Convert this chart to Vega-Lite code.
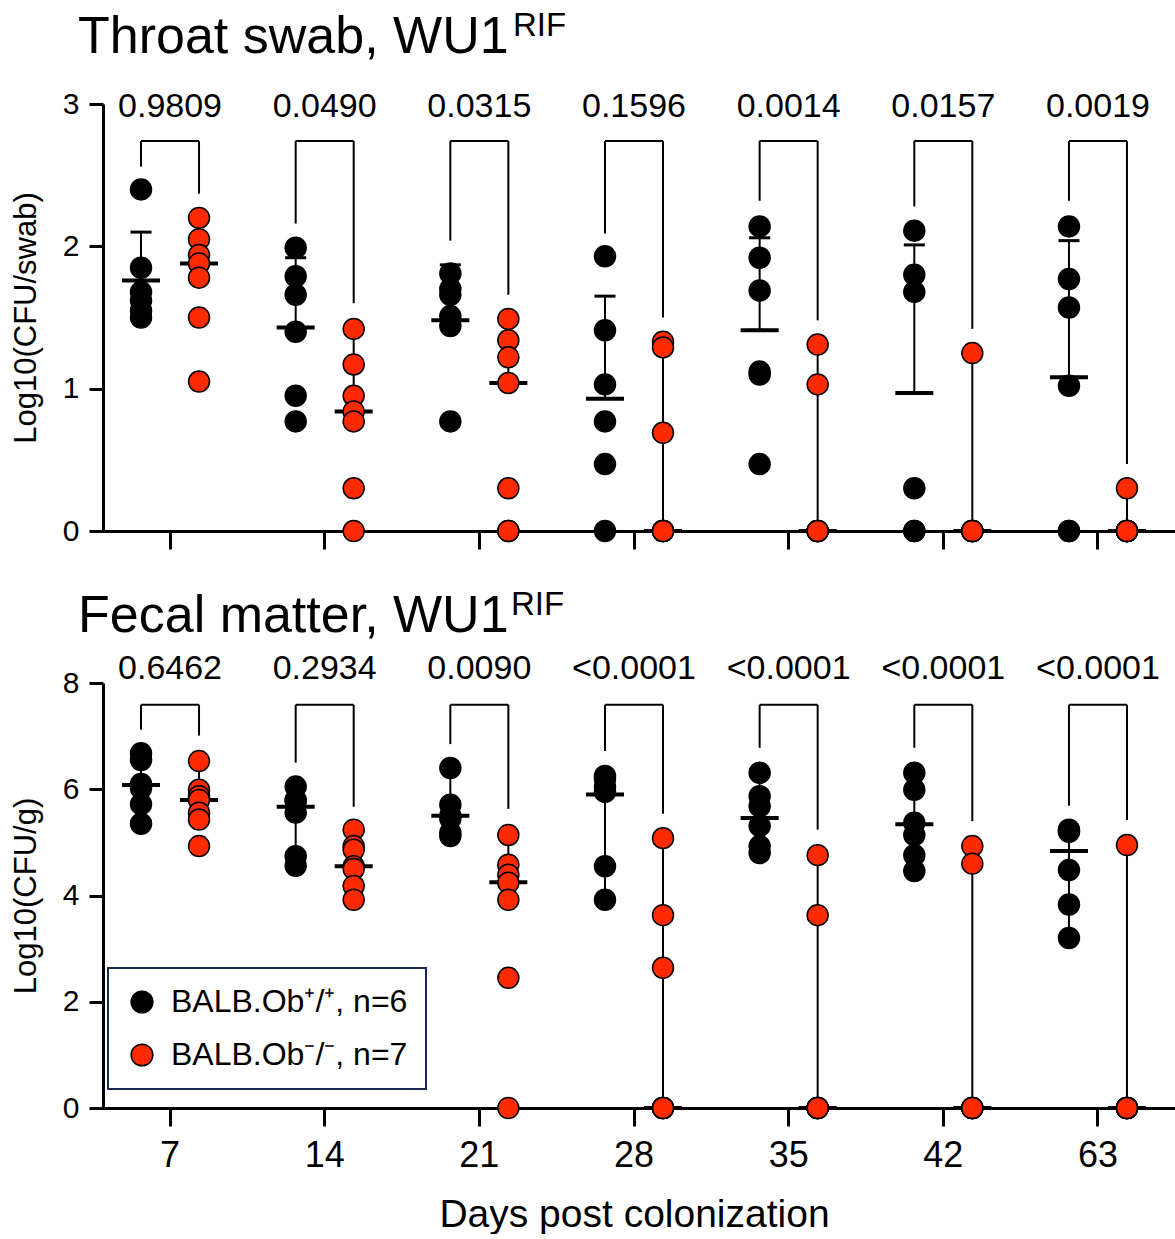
{
  "$schema": "https://vega.github.io/schema/vega-lite/v6.json",
  "padding": {"left": 10, "top": 9, "right": 5, "bottom": 0},
  "background": "white",
  "config": {
    "font": "Liberation Sans",
    "view": {"stroke": null},
    "concat": {"spacing": 38},
    "legend": {"strokeWidth": 2}
  },
  "datasets": {
    "pts": [
      {"panel":"T","day":"7","g":"Ob+/+","v":2.40},{"panel":"T","day":"7","g":"Ob+/+","v":1.85},{"panel":"T","day":"7","g":"Ob+/+","v":1.68},{"panel":"T","day":"7","g":"Ob+/+","v":1.62},{"panel":"T","day":"7","g":"Ob+/+","v":1.55},{"panel":"T","day":"7","g":"Ob+/+","v":1.50},
      {"panel":"T","day":"7","g":"Ob-/-","v":2.20},{"panel":"T","day":"7","g":"Ob-/-","v":2.05},{"panel":"T","day":"7","g":"Ob-/-","v":1.94},{"panel":"T","day":"7","g":"Ob-/-","v":1.88},{"panel":"T","day":"7","g":"Ob-/-","v":1.78},{"panel":"T","day":"7","g":"Ob-/-","v":1.50},{"panel":"T","day":"7","g":"Ob-/-","v":1.05},
      {"panel":"T","day":"14","g":"Ob+/+","v":1.99},{"panel":"T","day":"14","g":"Ob+/+","v":1.79},{"panel":"T","day":"14","g":"Ob+/+","v":1.66},{"panel":"T","day":"14","g":"Ob+/+","v":1.40},{"panel":"T","day":"14","g":"Ob+/+","v":0.95},{"panel":"T","day":"14","g":"Ob+/+","v":0.77},
      {"panel":"T","day":"14","g":"Ob-/-","v":1.42},{"panel":"T","day":"14","g":"Ob-/-","v":1.17},{"panel":"T","day":"14","g":"Ob-/-","v":0.95},{"panel":"T","day":"14","g":"Ob-/-","v":0.84},{"panel":"T","day":"14","g":"Ob-/-","v":0.77},{"panel":"T","day":"14","g":"Ob-/-","v":0.30},{"panel":"T","day":"14","g":"Ob-/-","v":0},
      {"panel":"T","day":"21","g":"Ob+/+","v":1.81},{"panel":"T","day":"21","g":"Ob+/+","v":1.70},{"panel":"T","day":"21","g":"Ob+/+","v":1.66},{"panel":"T","day":"21","g":"Ob+/+","v":1.51},{"panel":"T","day":"21","g":"Ob+/+","v":1.44},{"panel":"T","day":"21","g":"Ob+/+","v":0.77},
      {"panel":"T","day":"21","g":"Ob-/-","v":1.49},{"panel":"T","day":"21","g":"Ob-/-","v":1.34},{"panel":"T","day":"21","g":"Ob-/-","v":1.22},{"panel":"T","day":"21","g":"Ob-/-","v":1.04},{"panel":"T","day":"21","g":"Ob-/-","v":0.30},{"panel":"T","day":"21","g":"Ob-/-","v":0},{"panel":"T","day":"21","g":"Ob-/-","v":0},
      {"panel":"T","day":"28","g":"Ob+/+","v":1.93},{"panel":"T","day":"28","g":"Ob+/+","v":1.41},{"panel":"T","day":"28","g":"Ob+/+","v":1.03},{"panel":"T","day":"28","g":"Ob+/+","v":0.77},{"panel":"T","day":"28","g":"Ob+/+","v":0.47},{"panel":"T","day":"28","g":"Ob+/+","v":0},
      {"panel":"T","day":"28","g":"Ob-/-","v":1.33},{"panel":"T","day":"28","g":"Ob-/-","v":1.29},{"panel":"T","day":"28","g":"Ob-/-","v":0.69},{"panel":"T","day":"28","g":"Ob-/-","v":0},{"panel":"T","day":"28","g":"Ob-/-","v":0},{"panel":"T","day":"28","g":"Ob-/-","v":0},{"panel":"T","day":"28","g":"Ob-/-","v":0},
      {"panel":"T","day":"35","g":"Ob+/+","v":2.14},{"panel":"T","day":"35","g":"Ob+/+","v":1.92},{"panel":"T","day":"35","g":"Ob+/+","v":1.69},{"panel":"T","day":"35","g":"Ob+/+","v":1.12},{"panel":"T","day":"35","g":"Ob+/+","v":1.10},{"panel":"T","day":"35","g":"Ob+/+","v":0.47},
      {"panel":"T","day":"35","g":"Ob-/-","v":1.31},{"panel":"T","day":"35","g":"Ob-/-","v":1.03},{"panel":"T","day":"35","g":"Ob-/-","v":0},{"panel":"T","day":"35","g":"Ob-/-","v":0},{"panel":"T","day":"35","g":"Ob-/-","v":0},{"panel":"T","day":"35","g":"Ob-/-","v":0},{"panel":"T","day":"35","g":"Ob-/-","v":0},
      {"panel":"T","day":"42","g":"Ob+/+","v":2.11},{"panel":"T","day":"42","g":"Ob+/+","v":1.80},{"panel":"T","day":"42","g":"Ob+/+","v":1.68},{"panel":"T","day":"42","g":"Ob+/+","v":0.30},{"panel":"T","day":"42","g":"Ob+/+","v":0},{"panel":"T","day":"42","g":"Ob+/+","v":0},
      {"panel":"T","day":"42","g":"Ob-/-","v":1.25},{"panel":"T","day":"42","g":"Ob-/-","v":0},{"panel":"T","day":"42","g":"Ob-/-","v":0},{"panel":"T","day":"42","g":"Ob-/-","v":0},{"panel":"T","day":"42","g":"Ob-/-","v":0},{"panel":"T","day":"42","g":"Ob-/-","v":0},{"panel":"T","day":"42","g":"Ob-/-","v":0},
      {"panel":"T","day":"63","g":"Ob+/+","v":2.14},{"panel":"T","day":"63","g":"Ob+/+","v":1.77},{"panel":"T","day":"63","g":"Ob+/+","v":1.57},{"panel":"T","day":"63","g":"Ob+/+","v":1.02},{"panel":"T","day":"63","g":"Ob+/+","v":0},{"panel":"T","day":"63","g":"Ob+/+","v":0},
      {"panel":"T","day":"63","g":"Ob-/-","v":0.30},{"panel":"T","day":"63","g":"Ob-/-","v":0},{"panel":"T","day":"63","g":"Ob-/-","v":0},{"panel":"T","day":"63","g":"Ob-/-","v":0},{"panel":"T","day":"63","g":"Ob-/-","v":0},{"panel":"T","day":"63","g":"Ob-/-","v":0},{"panel":"T","day":"63","g":"Ob-/-","v":0},

      {"panel":"F","day":"7","g":"Ob+/+","v":6.68},{"panel":"F","day":"7","g":"Ob+/+","v":6.55},{"panel":"F","day":"7","g":"Ob+/+","v":6.10},{"panel":"F","day":"7","g":"Ob+/+","v":6.02},{"panel":"F","day":"7","g":"Ob+/+","v":5.72},{"panel":"F","day":"7","g":"Ob+/+","v":5.35},
      {"panel":"F","day":"7","g":"Ob-/-","v":6.53},{"panel":"F","day":"7","g":"Ob-/-","v":5.99},{"panel":"F","day":"7","g":"Ob-/-","v":5.87},{"panel":"F","day":"7","g":"Ob-/-","v":5.80},{"panel":"F","day":"7","g":"Ob-/-","v":5.56},{"panel":"F","day":"7","g":"Ob-/-","v":5.43},{"panel":"F","day":"7","g":"Ob-/-","v":4.93},
      {"panel":"F","day":"14","g":"Ob+/+","v":6.05},{"panel":"F","day":"14","g":"Ob+/+","v":5.80},{"panel":"F","day":"14","g":"Ob+/+","v":5.78},{"panel":"F","day":"14","g":"Ob+/+","v":5.56},{"panel":"F","day":"14","g":"Ob+/+","v":4.74},{"panel":"F","day":"14","g":"Ob+/+","v":4.56},
      {"panel":"F","day":"14","g":"Ob-/-","v":5.24},{"panel":"F","day":"14","g":"Ob-/-","v":4.93},{"panel":"F","day":"14","g":"Ob-/-","v":4.86},{"panel":"F","day":"14","g":"Ob-/-","v":4.55},{"panel":"F","day":"14","g":"Ob-/-","v":4.50},{"panel":"F","day":"14","g":"Ob-/-","v":4.18},{"panel":"F","day":"14","g":"Ob-/-","v":3.92},
      {"panel":"F","day":"21","g":"Ob+/+","v":6.40},{"panel":"F","day":"21","g":"Ob+/+","v":5.71},{"panel":"F","day":"21","g":"Ob+/+","v":5.50},{"panel":"F","day":"21","g":"Ob+/+","v":5.45},{"panel":"F","day":"21","g":"Ob+/+","v":5.18},{"panel":"F","day":"21","g":"Ob+/+","v":5.12},
      {"panel":"F","day":"21","g":"Ob-/-","v":5.14},{"panel":"F","day":"21","g":"Ob-/-","v":4.58},{"panel":"F","day":"21","g":"Ob-/-","v":4.39},{"panel":"F","day":"21","g":"Ob-/-","v":4.24},{"panel":"F","day":"21","g":"Ob-/-","v":3.92},{"panel":"F","day":"21","g":"Ob-/-","v":2.45},{"panel":"F","day":"21","g":"Ob-/-","v":0},
      {"panel":"F","day":"28","g":"Ob+/+","v":6.25},{"panel":"F","day":"28","g":"Ob+/+","v":6.20},{"panel":"F","day":"28","g":"Ob+/+","v":6.05},{"panel":"F","day":"28","g":"Ob+/+","v":5.95},{"panel":"F","day":"28","g":"Ob+/+","v":4.55},{"panel":"F","day":"28","g":"Ob+/+","v":3.92},
      {"panel":"F","day":"28","g":"Ob-/-","v":5.08},{"panel":"F","day":"28","g":"Ob-/-","v":3.63},{"panel":"F","day":"28","g":"Ob-/-","v":2.64},{"panel":"F","day":"28","g":"Ob-/-","v":0},{"panel":"F","day":"28","g":"Ob-/-","v":0},{"panel":"F","day":"28","g":"Ob-/-","v":0},{"panel":"F","day":"28","g":"Ob-/-","v":0},
      {"panel":"F","day":"35","g":"Ob+/+","v":6.31},{"panel":"F","day":"35","g":"Ob+/+","v":5.87},{"panel":"F","day":"35","g":"Ob+/+","v":5.68},{"panel":"F","day":"35","g":"Ob+/+","v":5.31},{"panel":"F","day":"35","g":"Ob+/+","v":4.93},{"panel":"F","day":"35","g":"Ob+/+","v":4.80},
      {"panel":"F","day":"35","g":"Ob-/-","v":4.76},{"panel":"F","day":"35","g":"Ob-/-","v":3.63},{"panel":"F","day":"35","g":"Ob-/-","v":0},{"panel":"F","day":"35","g":"Ob-/-","v":0},{"panel":"F","day":"35","g":"Ob-/-","v":0},{"panel":"F","day":"35","g":"Ob-/-","v":0},{"panel":"F","day":"35","g":"Ob-/-","v":0},
      {"panel":"F","day":"42","g":"Ob+/+","v":6.31},{"panel":"F","day":"42","g":"Ob+/+","v":5.99},{"panel":"F","day":"42","g":"Ob+/+","v":5.37},{"panel":"F","day":"42","g":"Ob+/+","v":5.14},{"panel":"F","day":"42","g":"Ob+/+","v":4.76},{"panel":"F","day":"42","g":"Ob+/+","v":4.46},
      {"panel":"F","day":"42","g":"Ob-/-","v":4.93},{"panel":"F","day":"42","g":"Ob-/-","v":4.60},{"panel":"F","day":"42","g":"Ob-/-","v":0},{"panel":"F","day":"42","g":"Ob-/-","v":0},{"panel":"F","day":"42","g":"Ob-/-","v":0},{"panel":"F","day":"42","g":"Ob-/-","v":0},{"panel":"F","day":"42","g":"Ob-/-","v":0},
      {"panel":"F","day":"63","g":"Ob+/+","v":5.24},{"panel":"F","day":"63","g":"Ob+/+","v":5.22},{"panel":"F","day":"63","g":"Ob+/+","v":5.20},{"panel":"F","day":"63","g":"Ob+/+","v":4.48},{"panel":"F","day":"63","g":"Ob+/+","v":3.83},{"panel":"F","day":"63","g":"Ob+/+","v":3.20},
      {"panel":"F","day":"63","g":"Ob-/-","v":4.95},{"panel":"F","day":"63","g":"Ob-/-","v":0},{"panel":"F","day":"63","g":"Ob-/-","v":0},{"panel":"F","day":"63","g":"Ob-/-","v":0},{"panel":"F","day":"63","g":"Ob-/-","v":0},{"panel":"F","day":"63","g":"Ob-/-","v":0},{"panel":"F","day":"63","g":"Ob-/-","v":0}
    ],
    "summ": [
      {"panel":"T","day":"7","g":"Ob+/+","center":1.76,"hi":2.10,"lo":1.76,"leg":2.56},
      {"panel":"T","day":"7","g":"Ob-/-","center":1.88,"hi":2.20,"lo":1.88,"leg":2.37},
      {"panel":"T","day":"14","g":"Ob+/+","center":1.43,"hi":1.92,"lo":1.43,"leg":2.16},
      {"panel":"T","day":"14","g":"Ob-/-","center":0.84,"hi":1.42,"lo":0.84,"leg":1.60},
      {"panel":"T","day":"21","g":"Ob+/+","center":1.48,"hi":1.87,"lo":1.48,"leg":2.04},
      {"panel":"T","day":"21","g":"Ob-/-","center":1.04,"hi":1.49,"lo":1.04,"leg":1.66},
      {"panel":"T","day":"28","g":"Ob+/+","center":0.93,"hi":1.65,"lo":0.93,"leg":2.09},
      {"panel":"T","day":"28","g":"Ob-/-","center":0,"hi":1.33,"lo":0,"leg":1.50},
      {"panel":"T","day":"35","g":"Ob+/+","center":1.41,"hi":2.06,"lo":1.41,"leg":2.32},
      {"panel":"T","day":"35","g":"Ob-/-","center":0,"hi":1.31,"lo":0,"leg":1.48},
      {"panel":"T","day":"42","g":"Ob+/+","center":0.97,"hi":2.01,"lo":0.97,"leg":2.28},
      {"panel":"T","day":"42","g":"Ob-/-","center":0,"hi":1.25,"lo":0,"leg":1.42},
      {"panel":"T","day":"63","g":"Ob+/+","center":1.08,"hi":2.04,"lo":1.08,"leg":2.32},
      {"panel":"T","day":"63","g":"Ob-/-","center":0,"hi":0.30,"lo":0,"leg":0.47},
      {"panel":"F","day":"7","g":"Ob+/+","center":6.08,"hi":6.60,"lo":5.40,"leg":7.12},
      {"panel":"F","day":"7","g":"Ob-/-","center":5.80,"hi":6.53,"lo":5.80,"leg":7.01},
      {"panel":"F","day":"14","g":"Ob+/+","center":5.67,"hi":6.10,"lo":4.80,"leg":6.50},
      {"panel":"F","day":"14","g":"Ob-/-","center":4.55,"hi":5.21,"lo":4.55,"leg":5.67},
      {"panel":"F","day":"21","g":"Ob+/+","center":5.50,"hi":6.40,"lo":5.50,"leg":6.85},
      {"panel":"F","day":"21","g":"Ob-/-","center":4.25,"hi":5.14,"lo":4.25,"leg":5.63},
      {"panel":"F","day":"28","g":"Ob+/+","center":5.90,"hi":6.25,"lo":3.92,"leg":6.72},
      {"panel":"F","day":"28","g":"Ob-/-","center":0,"hi":5.08,"lo":0,"leg":5.54},
      {"panel":"F","day":"35","g":"Ob+/+","center":5.46,"hi":6.25,"lo":4.85,"leg":6.78},
      {"panel":"F","day":"35","g":"Ob-/-","center":0,"hi":4.76,"lo":0,"leg":5.24},
      {"panel":"F","day":"42","g":"Ob+/+","center":5.34,"hi":6.32,"lo":4.46,"leg":6.78},
      {"panel":"F","day":"42","g":"Ob-/-","center":0,"hi":4.93,"lo":0,"leg":5.40},
      {"panel":"F","day":"63","g":"Ob+/+","center":4.84,"hi":5.20,"lo":3.20,"leg":5.69},
      {"panel":"F","day":"63","g":"Ob-/-","center":0,"hi":4.95,"lo":0,"leg":5.42}
    ],
    "pv": [
      {"panel":"T","day":"7","p":"0.9809"},{"panel":"T","day":"14","p":"0.0490"},{"panel":"T","day":"21","p":"0.0315"},{"panel":"T","day":"28","p":"0.1596"},{"panel":"T","day":"35","p":"0.0014"},{"panel":"T","day":"42","p":"0.0157"},{"panel":"T","day":"63","p":"0.0019"},
      {"panel":"F","day":"7","p":"0.6462"},{"panel":"F","day":"14","p":"0.2934"},{"panel":"F","day":"21","p":"0.0090"},{"panel":"F","day":"28","p":"<0.0001"},{"panel":"F","day":"35","p":"<0.0001"},{"panel":"F","day":"42","p":"<0.0001"},{"panel":"F","day":"63","p":"<0.0001"}
    ]
  },
  "vconcat": [
    {
      "width": 1063,
      "height": 427,
      "layer": [
        {
          "data": {"name": "summ"},
          "transform": [{"filter": "datum.panel == 'T'"}],
          "mark": {"type": "line", "color": "black", "strokeWidth": 2},
          "encoding": {
            "x": {"field": "day", "type": "ordinal", "scale": {"domain": ["7","14","21","28","35","42","63"], "range": [-10.3, 1072.3], "paddingInner": 0, "paddingOuter": 0},
                  "axis": {"labels": false, "ticks": true, "tickSize": 18, "tickWidth": 3, "tickColor": "black", "domain": false, "title": null, "grid": false}},
            "xOffset": {"field": "g", "type": "nominal", "scale": {"domain": ["Ob+/+","Ob-/-"], "paddingInner": 0, "paddingOuter": 0.333}},
            "y": {"datum": 2.74, "type": "quantitative",
                  "scale": {"domain": [0, 3], "nice": false, "zero": true},
                  "axis": {"values": [0,1,2,3], "format": "d", "title": "Log10(CFU/swab)", "titleFontSize": 31, "titleFontWeight": "normal", "titleColor": "black", "titlePadding": 20,
                           "labelFontSize": 30, "labelColor": "black", "labelPadding": 10, "tickSize": 14, "tickWidth": 3, "tickColor": "black",
                           "domainColor": "black", "domainWidth": 3, "grid": true, "gridColor": "black", "gridWidth": 3,
                           "gridOpacity": {"condition": {"test": "datum.value === 0", "value": 1}, "value": 0}}},
            "detail": {"field": "day"}
          }
        },
        {
          "data": {"name": "summ"},
          "transform": [{"filter": "datum.panel == 'T'"}],
          "mark": {"type": "rule", "color": "black", "strokeWidth": 2},
          "encoding": {
            "x": {"field": "day", "type": "ordinal"},
            "xOffset": {"field": "g", "type": "nominal"},
            "y": {"field": "leg", "type": "quantitative"},
            "y2": {"datum": 2.74}
          }
        },
        {
          "data": {"name": "summ"},
          "transform": [{"filter": "datum.panel == 'T'"}],
          "mark": {"type": "rule", "color": "black", "strokeWidth": 2},
          "encoding": {
            "x": {"field": "day", "type": "ordinal"},
            "xOffset": {"field": "g", "type": "nominal"},
            "y": {"field": "lo", "type": "quantitative"},
            "y2": {"field": "hi"}
          }
        },
        {
          "data": {"name": "summ"},
          "transform": [{"filter": "datum.panel == 'T'"}],
          "mark": {"type": "point", "shape": "stroke", "size": 441, "strokeWidth": 3, "color": "black", "opacity": 1},
          "encoding": {
            "x": {"field": "day", "type": "ordinal"},
            "xOffset": {"field": "g", "type": "nominal"},
            "y": {"field": "hi", "type": "quantitative"}
          }
        },
        {
          "data": {"name": "summ"},
          "transform": [{"filter": "datum.panel == 'T'"}],
          "mark": {"type": "point", "shape": "stroke", "size": 441, "strokeWidth": 3, "color": "black", "opacity": 1},
          "encoding": {
            "x": {"field": "day", "type": "ordinal"},
            "xOffset": {"field": "g", "type": "nominal"},
            "y": {"field": "lo", "type": "quantitative"}
          }
        },
        {
          "data": {"name": "summ"},
          "transform": [{"filter": "datum.panel == 'T'"}],
          "mark": {"type": "point", "shape": "stroke", "size": 1444, "strokeWidth": 4, "color": "black", "opacity": 1},
          "encoding": {
            "x": {"field": "day", "type": "ordinal"},
            "xOffset": {"field": "g", "type": "nominal"},
            "y": {"field": "center", "type": "quantitative"}
          }
        },
        {
          "data": {"name": "pts"},
          "transform": [{"filter": "datum.panel == 'T'"}],
          "mark": {"type": "circle", "size": 440, "opacity": 1, "stroke": "black", "strokeWidth": 1.5},
          "encoding": {
            "x": {"field": "day", "type": "ordinal"},
            "xOffset": {"field": "g", "type": "nominal"},
            "y": {"field": "v", "type": "quantitative"},
            "fill": {"field": "g", "type": "nominal", "scale": {"domain": ["Ob+/+","Ob-/-"], "range": ["#000000", "#FF2A00"]}, "legend": null}
          }
        },
        {
          "data": {"name": "pv"},
          "transform": [{"filter": "datum.panel == 'T'"}],
          "mark": {"type": "text", "fontSize": 34, "baseline": "middle", "align": "center", "color": "black"},
          "encoding": {
            "x": {"field": "day", "type": "ordinal"},
            "y": {"datum": 2.98},
            "text": {"field": "p"}
          }
        },
        {
          "data": {"values": [{"t": "Throat swab, WU1"}]},
          "mark": {"type": "text", "fontSize": 52, "baseline": "alphabetic", "align": "left", "dx": -92, "color": "black"},
          "encoding": {
            "x": {"datum": "7"},
            "y": {"datum": 3.36},
            "text": {"field": "t"}
          }
        },
        {
          "data": {"values": [{"t": "RIF"}]},
          "mark": {"type": "text", "fontSize": 33, "baseline": "alphabetic", "align": "left", "dx": 343, "color": "black"},
          "encoding": {
            "x": {"datum": "7"},
            "y": {"datum": 3.48},
            "text": {"field": "t"}
          }
        }
      ]
    },
    {
      "width": 1063,
      "height": 425,
      "layer": [
        {
          "data": {"name": "summ"},
          "transform": [{"filter": "datum.panel == 'F'"}],
          "mark": {"type": "line", "color": "black", "strokeWidth": 2},
          "encoding": {
            "x": {"field": "day", "type": "ordinal", "scale": {"domain": ["7","14","21","28","35","42","63"], "range": [-10.3, 1072.3], "paddingInner": 0, "paddingOuter": 0},
                  "axis": {"labels": true, "labelFontSize": 36, "labelColor": "black", "labelPadding": 12, "labelAngle": 0, "ticks": true, "tickSize": 18, "tickWidth": 3, "tickColor": "black", "domain": false, "grid": false,
                           "title": "Days post colonization", "titleFontSize": 39, "titleFontWeight": "normal", "titleColor": "black", "titlePadding": 22}},
            "xOffset": {"field": "g", "type": "nominal", "scale": {"domain": ["Ob+/+","Ob-/-"], "paddingInner": 0, "paddingOuter": 0.333}},
            "y": {"datum": 7.59, "type": "quantitative",
                  "scale": {"domain": [0, 8], "nice": false, "zero": true},
                  "axis": {"values": [0,2,4,6,8], "format": "d", "title": "Log10(CFU/g)", "titleFontSize": 31, "titleFontWeight": "normal", "titleColor": "black", "titlePadding": 20,
                           "labelFontSize": 30, "labelColor": "black", "labelPadding": 10, "tickSize": 14, "tickWidth": 3, "tickColor": "black",
                           "domainColor": "black", "domainWidth": 3, "grid": true, "gridColor": "black", "gridWidth": 3,
                           "gridOpacity": {"condition": {"test": "datum.value === 0", "value": 1}, "value": 0}}},
            "detail": {"field": "day"}
          }
        },
        {
          "data": {"name": "summ"},
          "transform": [{"filter": "datum.panel == 'F'"}],
          "mark": {"type": "rule", "color": "black", "strokeWidth": 2},
          "encoding": {
            "x": {"field": "day", "type": "ordinal"},
            "xOffset": {"field": "g", "type": "nominal"},
            "y": {"field": "leg", "type": "quantitative"},
            "y2": {"datum": 7.59}
          }
        },
        {
          "data": {"name": "summ"},
          "transform": [{"filter": "datum.panel == 'F'"}],
          "mark": {"type": "rule", "color": "black", "strokeWidth": 2},
          "encoding": {
            "x": {"field": "day", "type": "ordinal"},
            "xOffset": {"field": "g", "type": "nominal"},
            "y": {"field": "lo", "type": "quantitative"},
            "y2": {"field": "hi"}
          }
        },
        {
          "data": {"name": "summ"},
          "transform": [{"filter": "datum.panel == 'F'"}],
          "mark": {"type": "point", "shape": "stroke", "size": 441, "strokeWidth": 3, "color": "black", "opacity": 1},
          "encoding": {
            "x": {"field": "day", "type": "ordinal"},
            "xOffset": {"field": "g", "type": "nominal"},
            "y": {"field": "hi", "type": "quantitative"}
          }
        },
        {
          "data": {"name": "summ"},
          "transform": [{"filter": "datum.panel == 'F'"}],
          "mark": {"type": "point", "shape": "stroke", "size": 441, "strokeWidth": 3, "color": "black", "opacity": 1},
          "encoding": {
            "x": {"field": "day", "type": "ordinal"},
            "xOffset": {"field": "g", "type": "nominal"},
            "y": {"field": "lo", "type": "quantitative"}
          }
        },
        {
          "data": {"name": "summ"},
          "transform": [{"filter": "datum.panel == 'F'"}],
          "mark": {"type": "point", "shape": "stroke", "size": 1444, "strokeWidth": 4, "color": "black", "opacity": 1},
          "encoding": {
            "x": {"field": "day", "type": "ordinal"},
            "xOffset": {"field": "g", "type": "nominal"},
            "y": {"field": "center", "type": "quantitative"}
          }
        },
        {
          "data": {"name": "pts"},
          "transform": [{"filter": "datum.panel == 'F'"}],
          "mark": {"type": "circle", "size": 440, "opacity": 1, "stroke": "black", "strokeWidth": 1.5},
          "encoding": {
            "x": {"field": "day", "type": "ordinal"},
            "xOffset": {"field": "g", "type": "nominal"},
            "y": {"field": "v", "type": "quantitative"},
            "fill": {"field": "g", "type": "nominal", "scale": {"domain": ["Ob+/+","Ob-/-"], "range": ["#000000", "#FF2A00"]},
                     "legend": {"title": null, "orient": "none", "legendX": 5, "legendY": 285, "direction": "vertical",
                                "labelExpr": "datum.label == 'Ob+/+' ? 'BALB.Ob⁺/⁺, n=6' : 'BALB.Ob⁻/⁻, n=7'",
                                "labelFontSize": 32, "labelColor": "black", "labelOffset": 13, "labelLimit": 400,
                                "symbolType": "circle", "symbolSize": 470, "symbolStrokeColor": "black", "symbolStrokeWidth": 1.5, "symbolOpacity": 1,
                                "rowPadding": 21, "padding": 18, "strokeColor": "#1B2A55", "fillColor": "white"}}
          }
        },
        {
          "data": {"name": "pv"},
          "transform": [{"filter": "datum.panel == 'F'"}],
          "mark": {"type": "text", "fontSize": 34, "baseline": "middle", "align": "center", "color": "black"},
          "encoding": {
            "x": {"field": "day", "type": "ordinal"},
            "y": {"datum": 8.26},
            "text": {"field": "p"}
          }
        },
        {
          "data": {"values": [{"t": "Fecal matter, WU1"}]},
          "mark": {"type": "text", "fontSize": 52, "baseline": "alphabetic", "align": "left", "dx": -92, "color": "black"},
          "encoding": {
            "x": {"datum": "7"},
            "y": {"datum": 8.96},
            "text": {"field": "t"}
          }
        },
        {
          "data": {"values": [{"t": "RIF"}]},
          "mark": {"type": "text", "fontSize": 33, "baseline": "alphabetic", "align": "left", "dx": 341, "color": "black"},
          "encoding": {
            "x": {"datum": "7"},
            "y": {"datum": 9.28},
            "text": {"field": "t"}
          }
        }
      ]
    }
  ],
  "resolve": {"scale": {"x": "independent", "y": "independent", "xOffset": "independent", "fill": "independent"}}
}
